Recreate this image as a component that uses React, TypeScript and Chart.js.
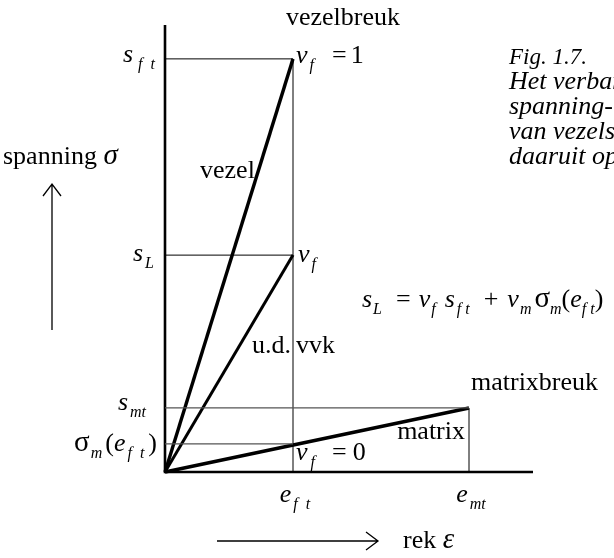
import React, { useEffect, useRef } from "react";
import { Chart, registerables } from "chart.js";

Chart.register(...registerables);

// Strain values, relative to the fibre failure strain e_ft
const strainNames = ["e_ft", "e_mt"];
const strainValues = [1.0, 2.375];
const strainMax = 2.875;

// Stress values, relative to the fibre strength s_ft
const stressNames = ["s_ft", "s_L", "s_mt", "sigma_m(e_ft)"];
const stressValues = [1.0, 0.525, 0.155, 0.068];
const stressMax = 1.082;

// Stress-strain curves: fibre, unidirectional composite, matrix
const fibreStrain = [0, 1.0];
const fibreStress = [0, 1.0];
const compositeStrain = [0, 1.0];
const compositeStress = [0, 0.525];
const matrixStrain = [0, 2.375];
const matrixStress = [0, 0.155];

const captionLines = [
  "Fig. 1.7.",
  "Het verband tussen de",
  "spanning-rek relaties",
  "van vezels, matrix en",
  "daaruit opgebouwde vvk",
];

const SERIF = '"Liberation Serif", "Times New Roman", serif';
const BASE = 26;
const SUB = 16;
const EN = "\u2002";

// a run of text: italic flag, size, baseline shift, extra space in front
type Part = { t: string; i?: boolean; s?: number; dy?: number; g?: number };

function font(p: Part) {
  return `${p.i ? "italic " : ""}${p.s ?? BASE}px ${SERIF}`;
}

function rich(ctx: CanvasRenderingContext2D, x: number, y: number, parts: Part[], align: "left" | "right" | "center" = "left") {
  let w = 0;
  for (const p of parts) {
    ctx.font = font(p);
    w += ctx.measureText(p.t).width + (p.g ?? 0);
  }
  let cx = align === "left" ? x : align === "right" ? x - w : x - w / 2;
  ctx.textBaseline = "alphabetic";
  ctx.textAlign = "left";
  for (const p of parts) {
    ctx.font = font(p);
    cx += p.g ?? 0;
    ctx.fillText(p.t, cx, y + (p.dy ?? 0));
    cx += ctx.measureText(p.t).width;
  }
}

const sub = (t: string, g = 0): Part => ({ t, i: true, s: SUB, dy: 7, g });
const it = (t: string, g = 0): Part => ({ t, i: true, g });
const rm = (t: string, g = 0): Part => ({ t, g });
const sigma = (g = 0): Part => ({ t: "σ", s: 29, g });

function seg(xs: number[], ys: number[]) {
  return xs.map((x, k) => ({ x, y: ys[k] }));
}

const labelsPlugin = {
  id: "diagramLabels",
  afterDatasetsDraw(chart: any) {
    const ctx: CanvasRenderingContext2D = chart.ctx;
    const sx = chart.scales.x;
    const sy = chart.scales.y;
    const X = (v: number) => sx.getPixelForValue(v);
    const Y = (v: number) => sy.getPixelForValue(v);
    const [eft, emt] = strainValues;
    const [sft, sL, smt, sm] = stressValues;
    const x0 = X(0);
    const y0 = Y(0);
    ctx.save();
    ctx.fillStyle = "#000";
    ctx.strokeStyle = "#000";

    // stress labels on the left of the vertical axis
    rich(ctx, x0 - 10, Y(sft) + 3, [it("s"), sub(`f${EN}t`, 5)], "right");
    rich(ctx, x0 - 11, Y(sL) + 6, [it("s"), sub("L", 2)], "right");
    rich(ctx, x0 - 19, Y(smt) + 2, [it("s"), sub("mt", 2)], "right");
    rich(ctx, x0 - 8, Y(sm) + 7, [sigma(), sub("m", 1), rm("(", 3), it("e"), sub(`f${EN}t`, 2), rm(")", 4)], "right");

    // strain labels below the horizontal axis
    rich(ctx, X(eft) + 2, y0 + 30, [it("e"), sub(`f${EN}t`, 2)], "center");
    rich(ctx, X(emt) + 2, y0 + 30, [it("e"), sub("mt", 2)], "center");

    // curve annotations
    rich(ctx, X(eft) - 7, Y(sft) - 34, [rm("vezelbreuk")]);
    rich(ctx, X(eft) + 3, Y(sft) + 4, [it("v"), sub("f", 2), rm("=", 18), rm("1", 4)]);
    rich(ctx, X(eft) + 5, Y(sL) + 7, [it("v"), sub("f", 2)]);
    rich(ctx, X(eft) + 3, y0 - 12, [it("v"), sub("f", 3), rm("=", 17), rm("0", 6)]);
    rich(ctx, X(0.71) - 1, Y(0.712), [rm("vezel")], "right");
    rich(ctx, X(eft) - 2, Y(0.288), [rm("u.d.")], "right");
    rich(ctx, X(eft) + 3, Y(0.288), [rm("vvk")]);
    rich(ctx, X(emt) - 4, Y(0.08), [rm("matrix")], "right");
    rich(ctx, X(emt) + 2, Y(smt) - 18, [rm("matrixbreuk")]);

    // rule of mixtures
    rich(ctx, 362, Y(sL) + 52, [
      it("s"), sub("L", 1), rm("=", 14),
      it("v", 8), sub("f", 1), it("s", 9), sub("f t", 2), rm("+", 14),
      it("v", 9), sub("m", 1), sigma(3), sub("m"), rm("("), it("e"), sub("f t"), rm(")"),
    ]);

    // axis titles with arrows
    rich(ctx, 3, 164, [rm("spanning "), { t: "σ", i: true, s: 29 }]);
    rich(ctx, 403, 548, [rm("rek "), { t: "ε", i: true, s: 29 }]);
    ctx.lineWidth = 1.3;
    ctx.beginPath();
    ctx.moveTo(52, 330);
    ctx.lineTo(52, 184);
    ctx.moveTo(43, 196);
    ctx.lineTo(52, 184);
    ctx.lineTo(61, 196);
    ctx.moveTo(217, 541);
    ctx.lineTo(378, 541);
    ctx.moveTo(366, 532);
    ctx.lineTo(378, 541);
    ctx.lineTo(366, 550);
    ctx.stroke();

    // caption
    captionLines.forEach((line, k) => {
      rich(ctx, 509, 64 + k * 25, [{ t: line, i: true, s: k === 0 ? 23 : BASE }]);
    });
    ctx.restore();
  },
};

export default function App() {
  const ref = useRef<HTMLCanvasElement | null>(null);
  useEffect(() => {
    if (!ref.current) return;
    const [eft, emt] = strainValues;
    const [sft, sL, smt, sm] = stressValues;
    const thin = { borderColor: "#000", borderWidth: 1, pointRadius: 0, showLine: true, clip: false as const };
    const grey = { ...thin, borderColor: "#555", borderWidth: 1.2 };
    const thick = { borderColor: "#000", borderWidth: 3.4, pointRadius: 0, showLine: true, clip: false as const };
    const chart = new Chart(ref.current, {
      type: "scatter",
      data: {
        datasets: [
          // guide lines
          { label: stressNames[0], data: seg([0, eft], [sft, sft]), ...thin },
          { label: stressNames[1], data: seg([0, eft], [sL, sL]), ...thin },
          { label: stressNames[2], data: seg([0, emt], [smt, smt]), ...grey },
          { label: stressNames[3], data: seg([0, eft], [sm, sm]), ...grey },
          { label: strainNames[0], data: seg([eft, eft], [0, sft]), ...thin },
          { label: strainNames[1], data: seg([emt, emt], [0, smt]), ...thin },
          // axes
          { label: "axes", data: seg([0, 0, strainMax], [stressMax, 0, 0]), ...thick, borderWidth: 2.6 },
          // curves
          { label: "vezel", data: seg(fibreStrain, fibreStress), ...thick },
          { label: "u.d. vvk", data: seg(compositeStrain, compositeStress), ...thick, borderWidth: 3 },
          { label: "matrix", data: seg(matrixStrain, matrixStress), ...thick },
        ],
      },
      options: {
        responsive: false,
        maintainAspectRatio: false,
        animation: false,
        layout: { padding: { left: 165, right: 81, top: 25, bottom: 86 } },
        scales: {
          x: { type: "linear", min: 0, max: strainMax, display: false },
          y: { type: "linear", min: 0, max: stressMax, display: false },
        },
        plugins: { legend: { display: false }, tooltip: { enabled: false } },
      },
      plugins: [labelsPlugin],
    });
    return () => chart.destroy();
  }, []);
  return (
    <div style={{ position: "fixed", left: 0, top: 0, width: 614, height: 558, background: "#fff", overflow: "hidden" }}>
      <canvas ref={ref} width={614} height={558} style={{ width: 614, height: 558, display: "block" }} />
    </div>
  );
}
